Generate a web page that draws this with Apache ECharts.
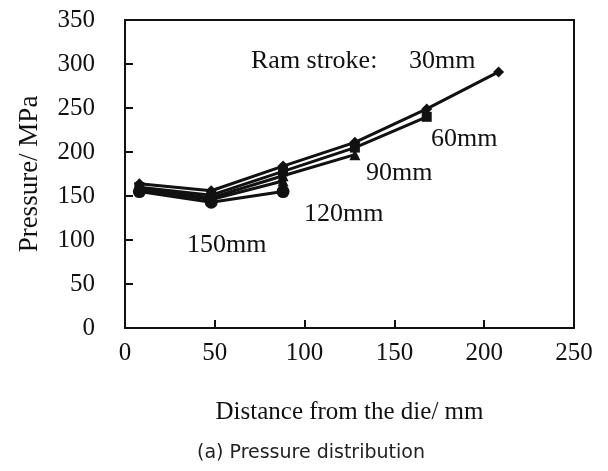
<!DOCTYPE html>
<html><head><meta charset="utf-8">
<script src="https://cdn.jsdelivr.net/npm/echarts@6/dist/echarts.min.js"></script>
<style>html,body{margin:0;padding:0;background:#fff}#c{width:608px;height:471px}</style>
</head><body><div id="c"></div>
<script>
const distance = [8, 48, 88, 128, 168, 208];
const stroke30 = [164, 156, 184, 211, 249, 291];
const stroke60 = [160, 151, 178, 205, 240];
const stroke90 = [158, 148, 173, 197];
const stroke120 = [157, 146, 167];
const stroke150 = [155, 143, 155];
const xTicks = [0, 50, 100, 150, 200, 250];
const yTicks = [0, 50, 100, 150, 200, 250, 300, 350];

const serif = '"Liberation Serif", "DejaVu Serif", serif';
function pts(v){ return v.map((y,i)=>[distance[i], y]); }
function mk(name, vals, sym, size){
  return {name, type:'line', data: pts(vals), symbol: sym, symbolSize: size,
    lineStyle:{color:'#111', width:3}, itemStyle:{color:'#111'}, z: 3, animation:false};
}
const chart = echarts.init(document.getElementById('c'));
chart.setOption({
  animation:false,
  grid:{left:125, right:34, top:20, bottom:143, show:true, borderColor:'#111', borderWidth:2},
  xAxis:{type:'value', min:0, max:250, interval:50,
    name:'Distance from the die/ mm', nameLocation:'middle', nameGap:72,
    nameTextStyle:{fontFamily:serif, fontSize:25, color:'#111'},
    axisLine:{lineStyle:{color:'#111', width:2}},
    axisTick:{inside:true, length:8, lineStyle:{color:'#111', width:2}},
    axisLabel:{fontFamily:serif, fontSize:25, color:'#111', margin:13},
    splitLine:{show:false}},
  yAxis:{type:'value', min:0, max:350, interval:50,
    name:'Pressure/ MPa', nameLocation:'middle', nameGap:82,
    nameTextStyle:{fontFamily:serif, fontSize:27, color:'#111'},
    axisLine:{lineStyle:{color:'#111', width:2}},
    axisTick:{inside:true, length:8, lineStyle:{color:'#111', width:2}},
    axisLabel:{fontFamily:serif, fontSize:25, color:'#111', margin:30},
    splitLine:{show:false}},
  series:[
    mk('30mm', stroke30, 'diamond', 11),
    mk('60mm', stroke60, 'rect', 10),
    mk('90mm', stroke90, 'triangle', 11),
    mk('120mm', stroke120, 'triangle', 11),
    mk('150mm', stroke150, 'circle', 13)
  ],
  graphic:[
    {type:'text', left:251, top:48, style:{text:'Ram stroke:', font:'26px '+serif, fill:'#111'}},
    {type:'text', left:409, top:48, style:{text:'30mm', font:'26px '+serif, fill:'#111'}},
    {type:'text', left:431, top:126, style:{text:'60mm', font:'26px '+serif, fill:'#111'}},
    {type:'text', left:366, top:160, style:{text:'90mm', font:'26px '+serif, fill:'#111'}},
    {type:'text', left:304, top:201, style:{text:'120mm', font:'26px '+serif, fill:'#111'}},
    {type:'text', left:187, top:232, style:{text:'150mm', font:'26px '+serif, fill:'#111'}},
    {type:'text', left:197, top:444, style:{text:'(a) Pressure distribution', font:'19px "DejaVu Sans", sans-serif', fill:'#222'}}
  ]
});
</script></body></html>
